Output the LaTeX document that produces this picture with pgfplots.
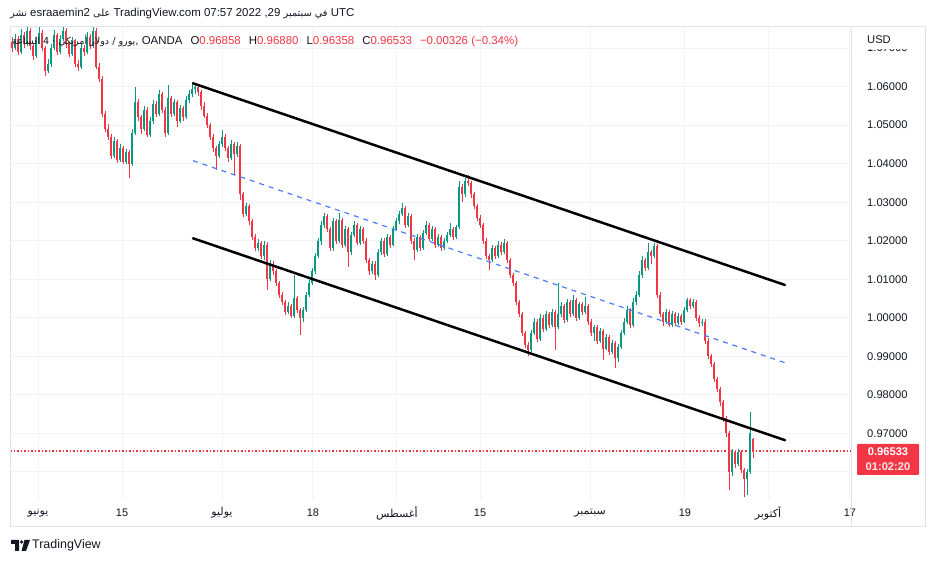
\documentclass[border=0pt]{standalone}
\usepackage{pgfplots}
\pgfplotsset{compat=1.18}
\usepackage{pgfplotstable}
\usepackage{fontspec}
\setmainfont{Liberation Sans}
\newfontfamily\arabicfont[Script=Arabic]{DejaVu Sans}
\TeXXeTstate=1

\definecolor{tvgreen}{HTML}{089981}
\definecolor{tvred}{HTML}{F23645}
\definecolor{tvtext}{HTML}{131722}
\definecolor{tvgrid}{HTML}{F0F3FA}
\definecolor{tvborder}{HTML}{E0E3EB}
\definecolor{tvblue}{HTML}{4D7CFE}

\newcommand{\ar}[1]{{\arabicfont\beginR #1\endR}}
\newcommand{\sar}[1]{{\fontsize{9.8}{11}\selectfont\ar{#1}}}

% EUR/USD bars, open high low close
\pgfplotstableread{
o h l c
1.0715 1.0730 1.0690 1.0700
1.0700 1.0738 1.0695 1.0725
1.0725 1.0732 1.0682 1.0690
1.0690 1.0750 1.0685 1.0735
1.0735 1.0742 1.0700 1.0710
1.0710 1.0765 1.0705 1.0745
1.0745 1.0752 1.0695 1.0705
1.0705 1.0712 1.0668 1.0680
1.0680 1.0730 1.0675 1.0720
1.0720 1.0760 1.0712 1.0740
1.0740 1.0748 1.0692 1.0700
1.0700 1.0705 1.0628 1.0640
1.0640 1.0672 1.0635 1.0660
1.0660 1.0710 1.0652 1.0700
1.0700 1.0748 1.0695 1.0735
1.0735 1.0740 1.0682 1.0690
1.0690 1.0735 1.0684 1.0725
1.0725 1.0770 1.0718 1.0745
1.0745 1.0752 1.0700 1.0710
1.0710 1.0716 1.0676 1.0685
1.0685 1.0728 1.0680 1.0720
1.0720 1.0725 1.0652 1.0660
1.0660 1.0668 1.0640 1.0650
1.0650 1.0712 1.0645 1.0700
1.0700 1.0708 1.0680 1.0690
1.0690 1.0742 1.0684 1.0730
1.0730 1.0736 1.0698 1.0705
1.0705 1.0770 1.0700 1.0745
1.0745 1.0752 1.0645 1.0650
1.0650 1.0662 1.0612 1.0620
1.0620 1.0628 1.0520 1.0530
1.0530 1.0538 1.0482 1.0490
1.0490 1.0502 1.0462 1.0470
1.0470 1.0476 1.0412 1.0420
1.0420 1.0469 1.0414 1.0460
1.0460 1.0465 1.0402 1.0410
1.0410 1.0452 1.0404 1.0440
1.0440 1.0446 1.0398 1.0405
1.0405 1.0438 1.0398 1.0430
1.0430 1.0436 1.0363 1.0400
1.0400 1.0490 1.0395 1.0480
1.0480 1.0600 1.0475 1.0560
1.0560 1.0568 1.0512 1.0520
1.0520 1.0526 1.0478 1.0490
1.0490 1.0550 1.0484 1.0540
1.0540 1.0546 1.0468 1.0475
1.0475 1.0520 1.0470 1.0510
1.0510 1.0566 1.0504 1.0555
1.0555 1.0562 1.0522 1.0530
1.0530 1.0592 1.0525 1.0580
1.0580 1.0586 1.0532 1.0540
1.0540 1.0546 1.0469 1.0480
1.0480 1.0605 1.0475 1.0570
1.0570 1.0576 1.0522 1.0530
1.0530 1.0568 1.0524 1.0560
1.0560 1.0566 1.0496 1.0510
1.0510 1.0552 1.0505 1.0545
1.0545 1.0550 1.0512 1.0520
1.0520 1.0575 1.0515 1.0565
1.0565 1.0590 1.0558 1.0580
1.0580 1.0612 1.0572 1.0595
1.0595 1.0610 1.0580 1.0600
1.0600 1.0608 1.0575 1.0585
1.0585 1.0590 1.0540 1.0550
1.0550 1.0560 1.0518 1.0525
1.0525 1.0532 1.0492 1.0500
1.0500 1.0506 1.0462 1.0470
1.0470 1.0478 1.0430 1.0440
1.0440 1.0446 1.0384 1.0420
1.0420 1.0460 1.0414 1.0450
1.0450 1.0487 1.0444 1.0470
1.0470 1.0476 1.0432 1.0440
1.0440 1.0446 1.0405 1.0415
1.0415 1.0461 1.0410 1.0450
1.0450 1.0455 1.0371 1.0425
1.0425 1.0456 1.0418 1.0445
1.0445 1.0450 1.0305 1.0320
1.0320 1.0326 1.0262 1.0270
1.0270 1.0298 1.0264 1.0290
1.0290 1.0296 1.0240 1.0250
1.0250 1.0256 1.0202 1.0210
1.0210 1.0218 1.0172 1.0180
1.0180 1.0205 1.0174 1.0195
1.0195 1.0200 1.0152 1.0160
1.0160 1.0200 1.0150 1.0190
1.0190 1.0196 1.0072 1.0100
1.0100 1.0150 1.0095 1.0140
1.0140 1.0146 1.0112 1.0120
1.0120 1.0126 1.0082 1.0090
1.0090 1.0096 1.0052 1.0060
1.0060 1.0066 1.0032 1.0040
1.0040 1.0046 1.0008 1.0015
1.0015 1.0040 1.0010 1.0030
1.0030 1.0036 0.9998 1.0005
1.0005 1.0110 1.0000 1.0050
1.0050 1.0056 1.0012 1.0020
1.0020 1.0026 0.9955 1.0000
1.0000 1.0028 0.9990 1.0020
1.0020 1.0068 1.0014 1.0060
1.0060 1.0098 1.0054 1.0090
1.0090 1.0128 1.0084 1.0120
1.0120 1.0168 1.0114 1.0160
1.0160 1.0208 1.0154 1.0200
1.0200 1.0250 1.0190 1.0240
1.0240 1.0272 1.0232 1.0265
1.0265 1.0270 1.0222 1.0230
1.0230 1.0236 1.0172 1.0180
1.0180 1.0258 1.0174 1.0250
1.0250 1.0256 1.0192 1.0200
1.0200 1.0272 1.0195 1.0255
1.0255 1.0260 1.0182 1.0190
1.0190 1.0238 1.0184 1.0230
1.0230 1.0236 1.0132 1.0170
1.0170 1.0222 1.0164 1.0215
1.0215 1.0250 1.0210 1.0240
1.0240 1.0246 1.0188 1.0195
1.0195 1.0238 1.0190 1.0230
1.0230 1.0236 1.0192 1.0200
1.0200 1.0206 1.0142 1.0150
1.0150 1.0156 1.0112 1.0120
1.0120 1.0148 1.0114 1.0140
1.0140 1.0146 1.0098 1.0110
1.0110 1.0178 1.0105 1.0170
1.0170 1.0208 1.0164 1.0200
1.0200 1.0206 1.0158 1.0165
1.0165 1.0218 1.0160 1.0210
1.0210 1.0216 1.0182 1.0190
1.0190 1.0238 1.0185 1.0230
1.0230 1.0258 1.0224 1.0250
1.0250 1.0278 1.0244 1.0270
1.0270 1.0298 1.0264 1.0285
1.0285 1.0290 1.0232 1.0240
1.0240 1.0272 1.0235 1.0265
1.0265 1.0270 1.0192 1.0200
1.0200 1.0206 1.0150 1.0175
1.0175 1.0218 1.0170 1.0210
1.0210 1.0216 1.0172 1.0180
1.0180 1.0228 1.0175 1.0220
1.0220 1.0252 1.0214 1.0240
1.0240 1.0246 1.0198 1.0205
1.0205 1.0238 1.0200 1.0230
1.0230 1.0236 1.0182 1.0190
1.0190 1.0218 1.0184 1.0210
1.0210 1.0216 1.0172 1.0180
1.0180 1.0208 1.0175 1.0200
1.0200 1.0222 1.0195 1.0215
1.0215 1.0245 1.0210 1.0230
1.0230 1.0236 1.0202 1.0210
1.0210 1.0242 1.0205 1.0235
1.0235 1.0355 1.0230 1.0340
1.0340 1.0346 1.0300 1.0320
1.0320 1.0362 1.0314 1.0355
1.0355 1.0371 1.0342 1.0350
1.0350 1.0356 1.0312 1.0320
1.0320 1.0326 1.0282 1.0290
1.0290 1.0296 1.0252 1.0260
1.0260 1.0266 1.0232 1.0240
1.0240 1.0246 1.0192 1.0200
1.0200 1.0206 1.0152 1.0160
1.0160 1.0166 1.0124 1.0150
1.0150 1.0188 1.0145 1.0180
1.0180 1.0186 1.0152 1.0160
1.0160 1.0198 1.0155 1.0190
1.0190 1.0196 1.0162 1.0170
1.0170 1.0205 1.0165 1.0195
1.0195 1.0200 1.0142 1.0150
1.0150 1.0156 1.0102 1.0110
1.0110 1.0116 1.0082 1.0090
1.0090 1.0096 1.0032 1.0040
1.0040 1.0046 1.0002 1.0010
1.0010 1.0016 0.9952 0.9960
0.9960 0.9966 0.9922 0.9930
0.9930 0.9936 0.9901 0.9915
0.9915 0.9968 0.9910 0.9960
0.9960 1.0000 0.9955 0.9990
0.9990 0.9996 0.9938 0.9945
0.9945 1.0010 0.9940 1.0000
1.0000 1.0006 0.9962 0.9970
0.9970 1.0018 0.9965 1.0010
1.0010 1.0016 0.9972 0.9980
0.9980 1.0022 0.9975 1.0015
1.0015 1.0020 0.9916 0.9975
0.9975 1.0090 0.9970 1.0010
1.0010 1.0040 1.0002 1.0030
1.0030 1.0036 0.9985 0.9995
0.9995 1.0048 0.9990 1.0040
1.0040 1.0046 1.0002 1.0010
1.0010 1.0060 1.0005 1.0045
1.0045 1.0050 0.9992 1.0000
1.0000 1.0042 0.9995 1.0035
1.0035 1.0040 1.0008 1.0015
1.0015 1.0054 1.0010 1.0030
1.0030 1.0036 0.9982 0.9990
0.9990 0.9996 0.9952 0.9960
0.9960 0.9982 0.9940 0.9975
0.9975 0.9980 0.9932 0.9940
0.9940 0.9972 0.9934 0.9965
0.9965 0.9970 0.9890 0.9920
0.9920 0.9958 0.9915 0.9950
0.9950 0.9956 0.9902 0.9910
0.9910 0.9942 0.9905 0.9935
0.9935 0.9940 0.9869 0.9895
0.9895 0.9932 0.9885 0.9925
0.9925 0.9968 0.9918 0.9960
0.9960 0.9998 0.9954 0.9990
0.9990 1.0030 0.9984 1.0020
1.0020 1.0026 0.9972 0.9980
0.9980 1.0050 0.9975 1.0040
1.0040 1.0070 1.0034 1.0060
1.0060 1.0120 1.0054 1.0110
1.0110 1.0160 1.0104 1.0150
1.0150 1.0156 1.0122 1.0130
1.0130 1.0194 1.0124 1.0170
1.0170 1.0176 1.0140 1.0160
1.0160 1.0194 1.0154 1.0185
1.0185 1.0192 1.0052 1.0060
1.0060 1.0066 1.0002 1.0010
1.0010 1.0016 0.9978 0.9990
0.9990 1.0022 0.9984 1.0015
1.0015 1.0020 0.9975 0.9980
0.9980 1.0018 0.9975 1.0010
1.0010 1.0016 0.9978 0.9985
0.9985 1.0012 0.9980 1.0005
1.0005 1.0010 0.9982 0.9990
0.9990 1.0028 0.9985 1.0020
1.0020 1.0050 1.0015 1.0045
1.0045 1.0052 1.0022 1.0030
1.0030 1.0048 1.0024 1.0040
1.0040 1.0046 0.9992 1.0000
1.0000 1.0006 0.9976 0.9985
0.9985 0.9996 0.9978 0.9990
0.9990 0.9996 0.9932 0.9940
0.9940 0.9946 0.9892 0.9900
0.9900 0.9906 0.9872 0.9880
0.9880 0.9886 0.9832 0.9840
0.9840 0.9846 0.9806 0.9815
0.9815 0.9820 0.9770 0.9780
0.9780 0.9786 0.9730 0.9740
0.9740 0.9746 0.9690 0.9700
0.9700 0.9706 0.9553 0.9600
0.9600 0.9660 0.9590 0.9650
0.9650 0.9656 0.9610 0.9620
0.9620 0.9660 0.9614 0.9650
0.9650 0.9656 0.9598 0.9605
0.9605 0.9610 0.9534 0.9580
0.9580 0.9608 0.9540 0.9600
0.9600 0.9755 0.9595 0.9700
0.96858 0.96880 0.96358 0.96533
}\candles

\begin{document}
\begin{tikzpicture}
\useasboundingbox (0,0) rectangle (935bp,563bp);
\fill[white] (0,0) rectangle (935bp,563bp);

\begin{axis}[
  at={(10bp,63bp)}, anchor=south west,
  scale only axis, width=841bp, height=473bp,
  xmin=-0.667, xmax=279.67,
  ymin=0.95266, ymax=1.07549,
  axis line style={draw=none},
  tick style={draw=none},
  grid=major,
  major grid style={tvgrid, line width=1bp},
  xtick={8.67,36.67,70,100.33,128.33,156,192.67,224.33,252,279.33},
  xticklabels={\ar{يونيو},15,\ar{يوليو},18,\ar{أغسطس},15,\ar{سبتمبر},19,\ar{أكتوبر},17},
  xticklabel style={font=\fontsize{11}{13}\selectfont, text=tvtext, anchor=center, yshift=-13bp},
  ytick={0.96,0.97,0.98,0.99,1.00,1.01,1.02,1.03,1.04,1.05,1.06,1.07},
  yticklabel pos=right,
  yticklabel style={anchor=west, inner xsep=0pt, xshift=16bp,
    font=\fontsize{11.2}{13}\selectfont, text=tvtext,
    /pgf/number format/fixed, /pgf/number format/fixed zerofill,
    /pgf/number format/precision=5, /pgf/number format/assume math mode=true},
]
% last price (under the bars)
\addplot[draw=tvred, line width=1.5bp, dash pattern=on 1.5bp off 2bp] coordinates {(-0.667,0.96533) (279.67,0.96533)};
% wicks
\addplot[draw=none, mark=none, forget plot,
  error bars/.cd, y dir=plus, y explicit, error mark=none,
  error bar style={draw=tvgreen, line width=1bp}]
  table[x expr=\coordindex, y expr={\thisrow{c}>=\thisrow{o} ? \thisrow{l} : nan},
        y error plus expr={\thisrow{h}-\thisrow{l}}] {\candles};
\addplot[draw=none, mark=none, forget plot,
  error bars/.cd, y dir=plus, y explicit, error mark=none,
  error bar style={draw=tvred, line width=1bp}]
  table[x expr=\coordindex, y expr={\thisrow{c}<\thisrow{o} ? \thisrow{l} : nan},
        y error plus expr={\thisrow{h}-\thisrow{l}}] {\candles};
% bodies
\addplot[draw=none, mark=none, forget plot,
  error bars/.cd, y dir=plus, y explicit, error mark=none,
  error bar style={draw=tvgreen, line width=2bp}]
  table[x expr=\coordindex, y expr={\thisrow{c}>=\thisrow{o} ? \thisrow{o} : nan},
        y error plus expr={\thisrow{c}-\thisrow{o}}] {\candles};
\addplot[draw=none, mark=none, forget plot,
  error bars/.cd, y dir=plus, y explicit, error mark=none,
  error bar style={draw=tvred, line width=2bp}]
  table[x expr=\coordindex, y expr={\thisrow{c}<\thisrow{o} ? \thisrow{c} : nan},
        y error plus expr={\thisrow{o}-\thisrow{c}}] {\candles};

% channel
\addplot[black, line width=2.5bp, line cap=round] coordinates {(60.33,1.06087) (257.67,1.00849)};
\addplot[black, line width=2.5bp, line cap=round] coordinates {(60.33,1.02062) (257.67,0.96819)};
\addplot[tvblue, line width=1.2bp, dash pattern=on 5bp off 5bp] coordinates {(60.33,1.04077) (257.67,0.98829)};
\end{axis}

\begin{scope}[x=1bp,y=1bp]
% frame and scale separators
\draw[tvborder, line width=1bp] (10,36) rectangle (925,536);
\draw[tvborder, line width=1bp] (851,36) -- (851,536);

% header
\node[anchor=west, inner sep=0pt, text=tvtext, font=\fontsize{11.5}{13}\selectfont] at (10,549)
  {\sar{نشر} esraaemin2 \sar{على} TradingView.com 07:57 2022 ,29 \sar{في سبتمبر} UTC};
\node[anchor=west, inner sep=0pt, text=tvtext, font=\fontsize{11.5}{14}\selectfont] at (12,522)
  {{\fontsize{9.6}{12}\selectfont\ar{يورو / دولار أمريكي · 4 الساعة}}, OANDA\hspace{8bp}O\textcolor{tvred}{0.96858}\hspace{8bp}H\textcolor{tvred}{0.96880}\hspace{8bp}L\textcolor{tvred}{0.96358}\hspace{8bp}C\textcolor{tvred}{0.96533}\hspace{8bp}\textcolor{tvred}{−0.00326 (−0.34\%)}};

% price scale title
\fill[white] (856,514) rectangle (921,534);
\node[anchor=west, inner sep=0pt, text=tvtext, font=\fontsize{11.2}{13}\selectfont] at (867,523) {USD};

% last price label
\fill[tvred, rounded corners=1bp] (857,88) rectangle (919,119);
\node[inner sep=0pt, text=white, font=\bfseries\fontsize{11.2}{13}\selectfont] at (888,111) {0.96533};
\node[inner sep=0pt, text=white!88!tvred, font=\bfseries\fontsize{11.2}{13}\selectfont] at (888,96.5) {01:02:20};

% logo
\fill[tvtext] (11,23) -- (19,23) -- (19,12) -- (15,12) -- (15,19) -- (11,19) -- cycle;
\fill[tvtext] (21.6,21) circle (1.8);
\fill[tvtext] (24.5,23) -- (30,23) -- (26,12) -- (21.5,12) -- cycle;
\node[anchor=west, inner sep=0pt, text=tvtext, font=\fontsize{12.5}{15}\selectfont] at (32,18) {TradingView};
\end{scope}
\end{tikzpicture}
\end{document}
